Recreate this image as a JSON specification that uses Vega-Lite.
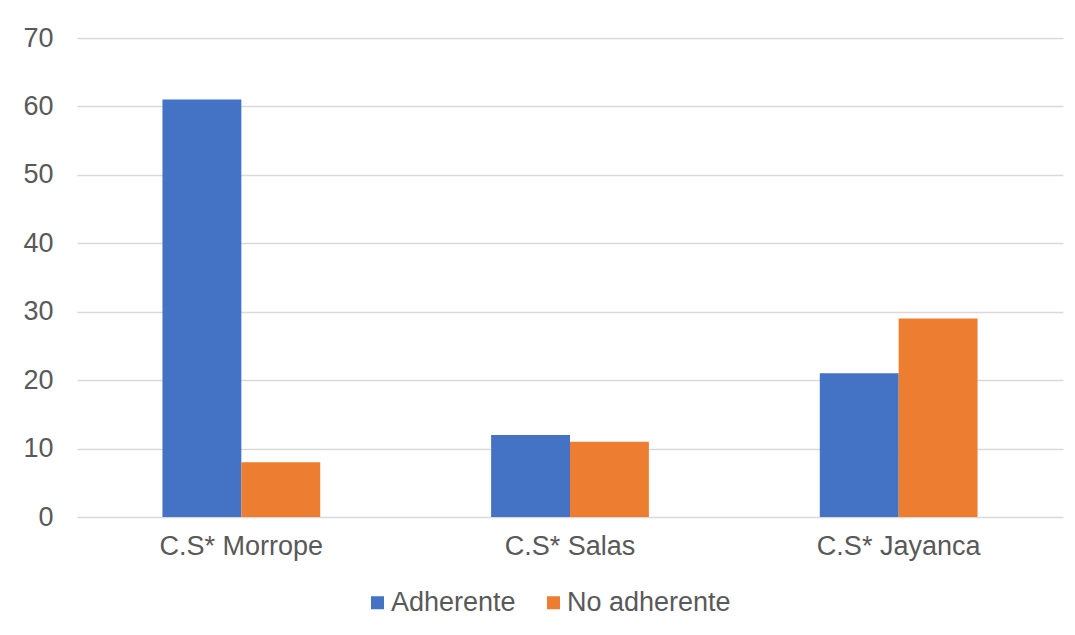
{
  "$schema": "https://vega.github.io/schema/vega-lite/v6.json",
  "autosize": {"type": "none"},
  "width": 986,
  "height": 479,
  "padding": {"left": 77, "top": 38, "right": 12, "bottom": 118},
  "background": "white",
  "data": {"values": [
    {"centro": "C.S* Morrope", "grupo": "Adherente", "valor": 61},
    {"centro": "C.S* Morrope", "grupo": "No adherente", "valor": 8},
    {"centro": "C.S* Salas", "grupo": "Adherente", "valor": 12},
    {"centro": "C.S* Salas", "grupo": "No adherente", "valor": 11},
    {"centro": "C.S* Jayanca", "grupo": "Adherente", "valor": 21},
    {"centro": "C.S* Jayanca", "grupo": "No adherente", "valor": 29}
  ]},
  "mark": {"type": "bar"},
  "encoding": {
    "x": {
      "field": "centro", "type": "nominal", "sort": null,
      "scale": {"paddingInner": 0.52, "paddingOuter": 0.26},
      "axis": {"title": null, "labelAngle": 0, "ticks": false, "domain": false, "labelFontSize": 27, "labelColor": "#595959", "labelFont": "Liberation Sans", "labelPadding": 16}
    },
    "xOffset": {"field": "grupo", "type": "nominal", "sort": ["Adherente", "No adherente"], "scale": {"paddingInner": 0, "paddingOuter": 0}},
    "y": {
      "field": "valor", "type": "quantitative",
      "scale": {"domain": [0, 70], "nice": false},
      "axis": {"title": null, "values": [0, 10, 20, 30, 40, 50, 60, 70], "ticks": false, "domain": false, "gridColor": "#d9d9d9", "gridWidth": 1.3, "labelFontSize": 27, "labelColor": "#595959", "labelFont": "Liberation Sans", "labelPadding": 24}
    },
    "color": {
      "field": "grupo", "type": "nominal",
      "scale": {"domain": ["Adherente", "No adherente"], "range": ["#4472c4", "#ed7d31"]},
      "legend": {"title": null, "orient": "none", "legendX": 287, "legendY": 551, "direction": "horizontal", "symbolType": "square", "symbolSize": 169, "symbolStrokeWidth": 0, "labelFontSize": 27, "labelColor": "#595959", "labelFont": "Liberation Sans", "columnPadding": 24, "labelOffset": 0, "labelLimit": 400}
    }
  },
  "config": {"view": {"stroke": null}}
}
